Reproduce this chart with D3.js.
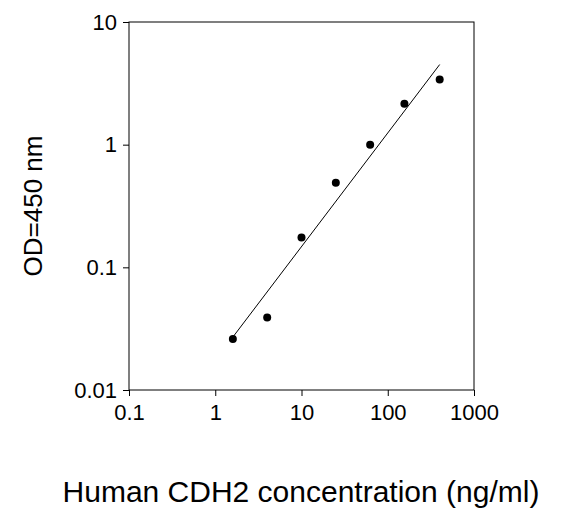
<!DOCTYPE html>
<html><head><meta charset="utf-8">
<script src="https://cdn.jsdelivr.net/npm/d3@7"></script>
<style>body{margin:0;background:#fff}text{font-family:"Liberation Sans",Arial,sans-serif}</style>
</head><body><svg id="c" width="578" height="524"></svg>
<script>
const concentrations=[1.6,4,10,25,62.5,156,400];
const odValues=[0.026,0.039,0.175,0.49,1.0,2.16,3.4];
const fitX=[1.6,400];
const fitY=[0.027,4.5];
const xTicks=[0.1,1,10,100,1000];
const yTicks=[0.01,0.1,1,10];
const svg=d3.select("#c");
const x=d3.scaleLog().domain([0.1,1000]).range([129,474]);
const y=d3.scaleLog().domain([0.01,10]).range([390,22]);
svg.append("rect").attr("x",129).attr("y",22).attr("width",345).attr("height",368).attr("fill","none").attr("stroke","#000");
const xa=svg.append("g").attr("transform","translate(0,390)").call(d3.axisBottom(x).tickValues(xTicks).tickFormat(d=>String(d)).tickSizeOuter(0).tickSize(6).tickPadding(8));
const ya=svg.append("g").attr("transform","translate(129,0)").call(d3.axisLeft(y).tickValues(yTicks).tickFormat(d=>String(d)).tickSizeOuter(0).tickSize(6).tickPadding(6));
[xa,ya].forEach(a=>{a.attr("font-size",null).attr("font-family",null);a.selectAll("text").style("font-size","22px").attr("fill","#000");a.select(".domain").remove();a.selectAll("line").attr("stroke","#000");});
svg.append("line").attr("x1",x(fitX[0])).attr("y1",y(fitY[0])).attr("x2",x(fitX[1])).attr("y2",y(fitY[1])).attr("stroke","#000").attr("stroke-width",1);
svg.selectAll("circle.p").data(concentrations).enter().append("circle").attr("cx",d=>x(d)).attr("cy",(d,i)=>y(odValues[i])).attr("r",4).attr("fill","#000");
svg.append("text").attr("x",301).attr("y",502).attr("text-anchor","middle").style("font-size","30px").text("Human CDH2 concentration (ng/ml)");
svg.append("text").attr("transform","translate(42,206) rotate(-90)").attr("text-anchor","middle").style("font-size","26px").text("OD=450 nm");
</script></body></html>
